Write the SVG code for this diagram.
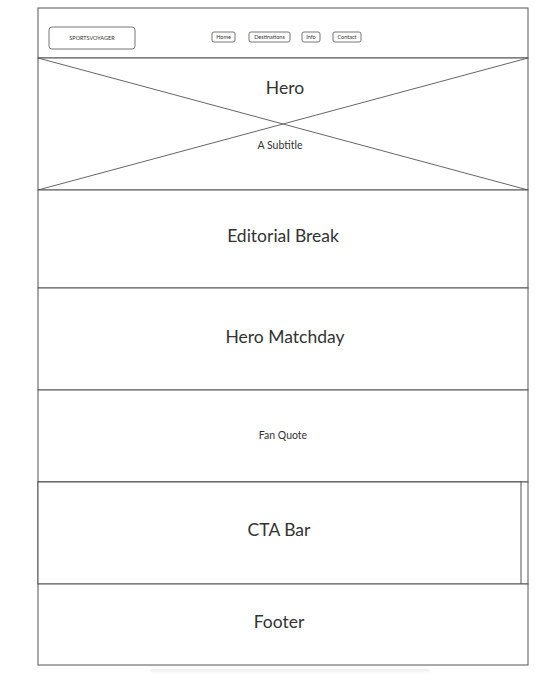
<svg xmlns="http://www.w3.org/2000/svg" width="550" height="674" viewBox="0 0 550 674">
<defs>
<style>
.box{fill:#fff;stroke:#555;stroke-width:1}
.ln{stroke:#555;stroke-width:0.9;fill:none}
.btn{fill:#fff;stroke:#666;stroke-width:0.9}
.t{font-family:"Lato","Open Sans",sans-serif;fill:#333;text-anchor:middle}
.h{font-size:17.5px}
.s{font-size:10.5px}
.n{font-size:5.5px}
</style>
<linearGradient id="sh" x1="0" y1="0" x2="0" y2="1"><stop offset="0" stop-color="#eee"/><stop offset="1" stop-color="#fff"/></linearGradient>
</defs>
<rect width="550" height="674" fill="#fff"/>
<rect x="150" y="669" width="280" height="5" rx="2" fill="url(#sh)"/>
<g id="header">
<rect class="box" x="38" y="8" width="490" height="50"/>
<g id="logo"><rect class="btn" x="49" y="27" width="86" height="22" rx="3"/><text class="t n" x="92" y="40">SPORTSVOYAGER</text></g>
<g id="nav-home"><rect class="btn" x="212" y="32" width="23" height="10" rx="2"/><text class="t n" x="223.5" y="39">Home</text></g>
<g id="nav-destinations"><rect class="btn" x="249" y="32" width="41" height="10" rx="2"/><text class="t n" x="269.5" y="39">Destinations</text></g>
<g id="nav-info"><rect class="btn" x="302" y="32" width="18" height="10" rx="2"/><text class="t n" x="311" y="39">Info</text></g>
<g id="nav-contact"><rect class="btn" x="333" y="32" width="28" height="10" rx="2"/><text class="t n" x="347" y="39">Contact</text></g>
</g>
<g id="hero">
<rect class="box" x="38" y="58" width="490" height="132"/>
<line class="ln" x1="38" y1="58" x2="528" y2="190"/>
<line class="ln" x1="528" y1="58" x2="38" y2="190"/>
<text class="t h" x="285" y="94">Hero</text>
<text class="t s" x="280" y="149">A Subtitle</text>
</g>
<g id="editorial-break">
<rect class="box" x="38" y="190" width="490" height="98"/>
<text class="t h" x="283" y="242">Editorial Break</text>
</g>
<g id="hero-matchday">
<rect class="box" x="38" y="288" width="490" height="102"/>
<text class="t h" x="285" y="343">Hero Matchday</text>
</g>
<g id="fan-quote">
<rect class="box" x="38" y="390" width="490" height="92"/>
<text class="t s" x="283" y="439">Fan Quote</text>
</g>
<g id="cta-bar">
<rect class="box" x="38" y="482" width="490" height="102"/>
<rect class="box" x="38" y="482" width="483" height="102"/>
<text class="t h" x="279" y="536">CTA Bar</text>
</g>
<g id="footer">
<rect class="box" x="38" y="584" width="490" height="81"/>
<text class="t h" x="279" y="628">Footer</text>
</g>
<g id="connectors"></g>
</svg>
